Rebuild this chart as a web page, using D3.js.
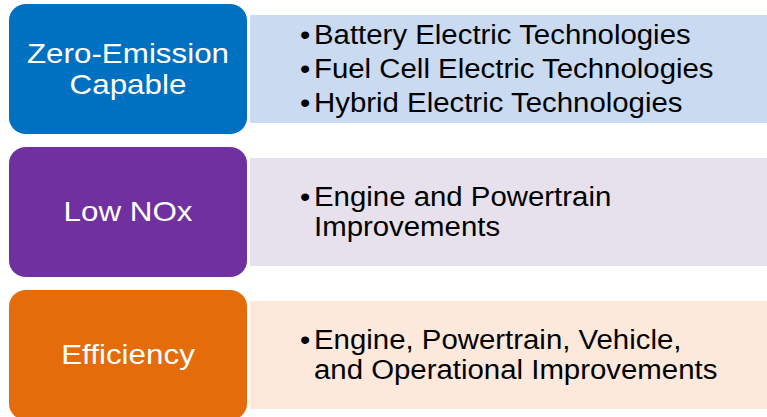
<!DOCTYPE html>
<html>
<head>
<meta charset="utf-8">
<script src="https://cdn.jsdelivr.net/npm/d3@7"></script>
<style>
  body { margin: 0; background: #fff; }
  svg { display: block; }
</style>
</head>
<body>
<div id="chart"></div>
<script>
// categories (left boxes) and their label lines
const categories = ["Zero-Emission Capable", "Low NOx", "Efficiency"];
const labelLines = [
    ["Zero-Emission", "Capable"],
    ["Low NOx"],
    ["Efficiency"]
];
// bullets per category, each bullet may wrap onto several lines
const bulletLines = [
    [["Battery Electric Technologies"], ["Fuel Cell Electric Technologies"], ["Hybrid Electric Technologies"]],
    [["Engine and Powertrain", "Improvements"]],
    [["Engine, Powertrain, Vehicle,", "and Operational Improvements"]]
];

// styles
const boxColors = ["#0070C0", "#7030A0", "#E46C0A"];
const panelColors = ["#C9DAF1", "#E6E1EC", "#FCE9DC"];

const width = 767, height = 417;
const font = "'Liberation Sans', Arial, sans-serif";

const svg = d3.select("#chart").append("svg")
    .attr("width", width).attr("height", height);

//scales
const y = d3.scaleBand().domain(categories).range([4, 420]).paddingInner(0.0909);
const boxColor = d3.scaleOrdinal().domain(categories).range(boxColors);
const panelColor = d3.scaleOrdinal().domain(categories).range(panelColors);

const boxX = 9, boxW = 238;
const panelX = 250, panelInset = 11;

const rows = svg.selectAll("g.row").data(categories).enter().append("g")
    .attr("class", "row")
    .attr("transform", d => `translate(0, ${y(d)})`);

// light panel on the right
rows.append("rect")
    .attr("x", panelX)
    .attr("y", panelInset)
    .attr("width", width - panelX)
    .attr("height", y.bandwidth() - 2 * panelInset)
    .attr("fill", d => panelColor(d));

// coloured rounded box
rows.append("rect")
    .attr("x", boxX)
    .attr("y", 0)
    .attr("width", boxW)
    .attr("height", y.bandwidth())
    .attr("rx", 17).attr("ry", 16)
    .attr("fill", d => boxColor(d));

// box labels (reference text is a little wider than Arial)
const labelSize = 28, labelGap = 31, labelSx = 1.12;
rows.each(function(d, i) {
    const g = d3.select(this);
    const lines = labelLines[i];
    const cy = y.bandwidth() / 2 - 1;
    const first = cy + labelSize * 0.716 / 2 - (lines.length - 1) * labelGap / 2;
    lines.forEach((t, j) => {
        g.append("text")
            .attr("transform", `translate(${boxX + boxW / 2}, ${first + j * labelGap}) scale(${labelSx}, 1)`)
            .attr("text-anchor", "middle")
            .attr("font-family", font)
            .attr("font-size", labelSize)
            .attr("fill", "#fff")
            .text(t);
    });
});

// bullet text
const textSize = 28, lineGap = 30.5, paraGap = 34, textSx = 1.05;
rows.each(function(d, i) {
    const g = d3.select(this);
    let lines = [];
    let off = 0;
    bulletLines[i].forEach((b, k) => {
        if (k > 0) off += paraGap - lineGap;
        b.forEach((t, j) => {
            lines.push({text: t, bullet: j === 0, off: off});
            off += lineGap;
        });
    });
    const span = lines[lines.length - 1].off;
    const cy = y.bandwidth() / 2 - 1;
    const first = cy + textSize * 0.716 / 2 - span / 2;
    lines.forEach(l => {
        if (l.bullet) {
            g.append("text")
                .attr("transform", `translate(300, ${first + l.off}) scale(${textSx}, 1)`)
                .attr("font-family", font)
                .attr("font-size", textSize)
                .attr("fill", "#000")
                .text("\u2022");
        }
        g.append("text")
            .attr("transform", `translate(314, ${first + l.off}) scale(${textSx}, 1)`)
            .attr("font-family", font)
            .attr("font-size", textSize)
            .attr("fill", "#000")
            .text(l.text);
    });
});
</script>
</body>
</html>
